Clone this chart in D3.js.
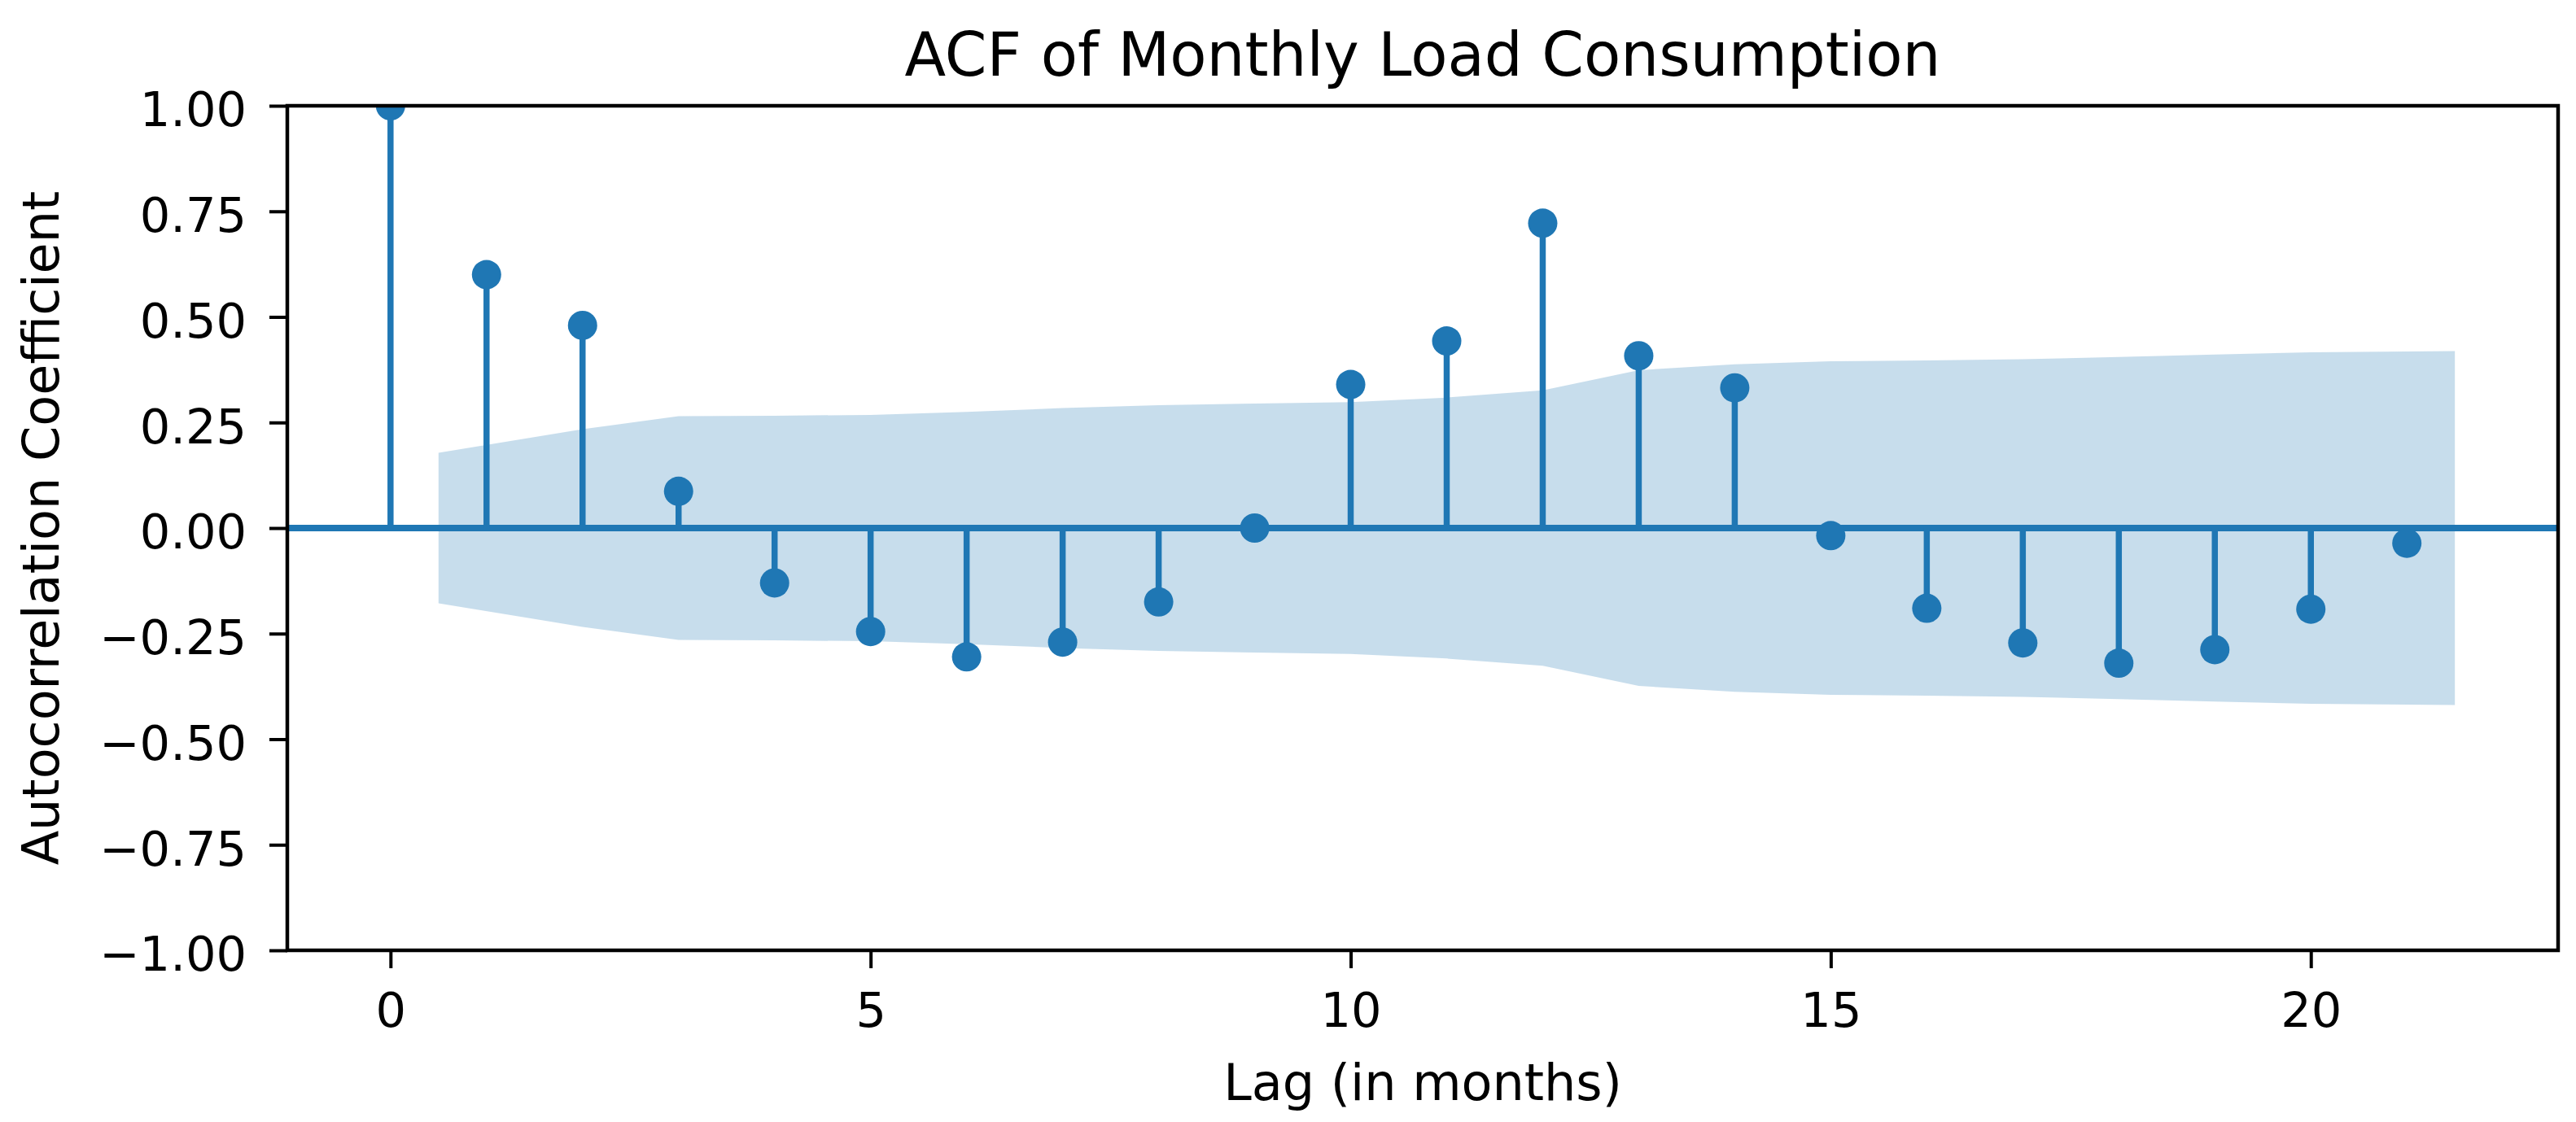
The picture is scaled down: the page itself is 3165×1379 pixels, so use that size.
<!DOCTYPE html>
<html>
<head>
<meta charset="utf-8">
<script src="https://cdn.jsdelivr.net/npm/d3@7"></script>
<style>
  body { margin: 0; background: #fff; }
  text { font-family: "DejaVu Sans", sans-serif; fill: #000; }
</style>
</head>
<body>
<div id="chart"></div>
<script>
// ACF values
const lags = [0, 1, 2, 3, 4, 5, 6, 7, 8, 9, 10, 11, 12, 13, 14, 15, 16, 17, 18, 19, 20, 21];
const acfValues = [1.0, 0.6, 0.48, 0.087, -0.13, -0.245, -0.305, -0.27, -0.175, 0.0, 0.34, 0.443, 0.722, 0.408, 0.332, -0.018, -0.19, -0.272, -0.32, -0.288, -0.192, -0.036];

// Confidence band (half width, symmetric around 0)
const bandLags = [0.5, 2, 3, 4, 5, 6, 7, 8, 9, 10, 11, 12, 13, 14, 15, 16, 17, 18, 19, 20, 21.5];
const bandHalf = [0.178, 0.234, 0.265, 0.266, 0.268, 0.275, 0.284, 0.291, 0.295, 0.298, 0.309, 0.326, 0.374, 0.388, 0.395, 0.397, 0.4, 0.405, 0.411, 0.416, 0.419];

const xTicks = [0, 5, 10, 15, 20];
const yTicks = [-1, -0.75, -0.5, -0.25, 0, 0.25, 0.5, 0.75, 1];

const width = 3165, height = 1379;
const margin = { top: 130, right: 22, bottom: 211, left: 353 };
const blue = "#1f77b4";

const svg = d3.select("#chart")
  .append("svg")
  .attr("width", width)
  .attr("height", height);

const x = d3.scaleLinear()
  .domain([-1.075, 22.575])
  .range([margin.left, width - margin.right]);

const y = d3.scaleLinear()
  .domain([-1, 1])
  .range([height - margin.bottom, margin.top]);

svg.append("clipPath").attr("id", "plot-clip")
  .append("rect")
  .attr("x", margin.left)
  .attr("y", margin.top)
  .attr("width", width - margin.left - margin.right)
  .attr("height", height - margin.top - margin.bottom);

const plot = svg.append("g").attr("clip-path", "url(#plot-clip)");

// confidence band
const bandData = bandLags.map((l, i) => ({ lag: l, h: bandHalf[i] }));
plot.append("path")
  .datum(bandData)
  .attr("fill", blue)
  .attr("fill-opacity", 0.25)
  .attr("d", d3.area()
    .x((d) => x(d.lag))
    .y0((d) => y(-d.h))
    .y1((d) => y(d.h)));

// zero line
plot.append("line")
  .attr("x1", margin.left)
  .attr("x2", width - margin.right)
  .attr("y1", y(0))
  .attr("y2", y(0))
  .attr("stroke", blue)
  .attr("stroke-width", 8);

const points = lags.map((l, i) => ({ lag: l, v: acfValues[i] }));

// stems
plot.selectAll("line.stem")
  .data(points)
  .enter()
  .append("line")
  .attr("class", "stem")
  .attr("x1", (d) => x(d.lag))
  .attr("x2", (d) => x(d.lag))
  .attr("y1", y(0))
  .attr("y2", (d) => y(d.v))
  .attr("stroke", blue)
  .attr("stroke-width", 7.5);

// markers
plot.selectAll("circle")
  .data(points)
  .enter()
  .append("circle")
  .attr("cx", (d) => x(d.lag))
  .attr("cy", (d) => y(d.v))
  .attr("r", 18)
  .attr("fill", blue);

// axes
const xAxis = svg.append("g")
  .attr("transform", `translate(0,${height - margin.bottom})`)
  .call(d3.axisBottom(x).tickValues(xTicks).tickFormat(d3.format("d")).tickSize(22).tickPadding(30));

const yAxis = svg.append("g")
  .attr("transform", `translate(${margin.left},0)`)
  .call(d3.axisLeft(y).tickValues(yTicks).tickFormat(d3.format(".2f")).tickSize(22).tickPadding(28));

[xAxis, yAxis].forEach((g) => {
  g.select(".domain").remove();
  g.selectAll(".tick line").attr("stroke", "#000").attr("stroke-width", 4);
  g.selectAll(".tick text")
    .style("font-family", "DejaVu Sans")
    .style("font-size", "59px")
    .attr("fill", "#000");
});
yAxis.selectAll(".tick text").attr("dy", "0.42em");

// frame
svg.append("rect")
  .attr("x", margin.left)
  .attr("y", margin.top)
  .attr("width", width - margin.left - margin.right)
  .attr("height", height - margin.top - margin.bottom)
  .attr("fill", "none")
  .attr("stroke", "#000")
  .attr("stroke-width", 4.5);

// labels
svg.append("text")
  .attr("x", (margin.left + width - margin.right) / 2)
  .attr("y", 93)
  .attr("text-anchor", "middle")
  .style("font-size", "74px")
  .text("ACF of Monthly Load Consumption");

svg.append("text")
  .attr("x", (margin.left + width - margin.right) / 2)
  .attr("y", 1352)
  .attr("text-anchor", "middle")
  .style("font-size", "62px")
  .text("Lag (in months)");

svg.append("text")
  .attr("transform", `translate(72,${(margin.top + height - margin.bottom) / 2}) rotate(-90)`)
  .attr("text-anchor", "middle")
  .style("font-size", "62px")
  .text("Autocorrelation Coefficient");
</script>
</body>
</html>
